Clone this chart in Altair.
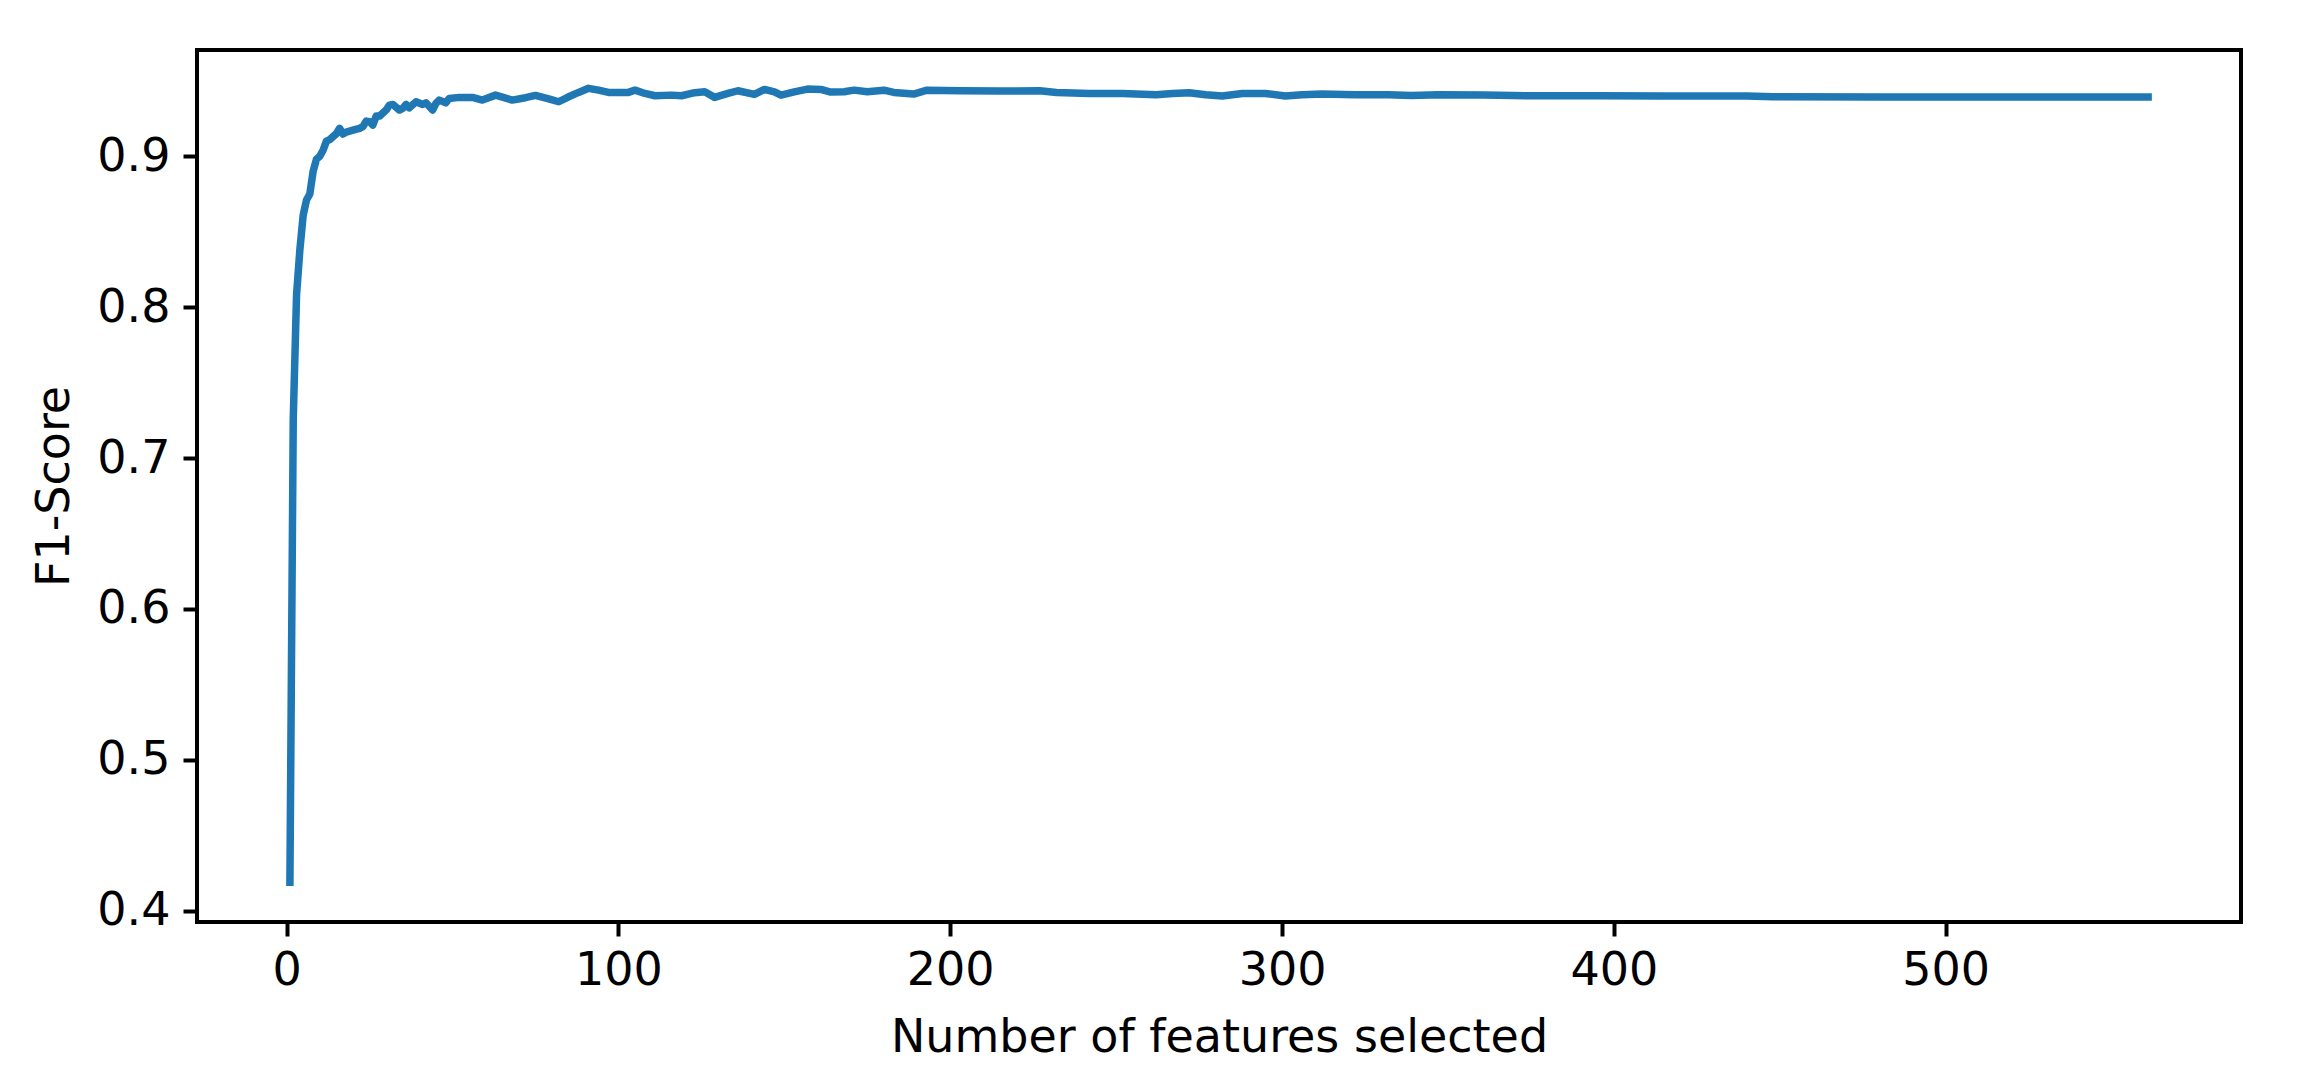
import altair as alt
import pandas as pd

# Number of features selected
n_features = [1, 2, 3, 4, 5, 6, 7, 8, 9, 10, 11, 12, 13, 14, 15, 16, 17, 18, 20, 22,
              23, 24, 25, 26, 27, 28, 30, 31, 32, 34, 35, 36, 37, 39, 41, 42, 44, 45, 46, 48,
              49, 52, 56, 59, 63, 68, 72, 75, 79, 82, 85, 88, 91, 94, 97, 103, 105, 108, 111, 116,
              119, 123, 126, 129, 133, 136, 141, 144, 147, 149, 153, 157, 161, 164, 168, 171, 175, 180, 183, 189,
              193, 203, 215, 227, 232, 242, 252, 262, 267, 272, 277, 282, 288, 295, 301, 306, 312, 322, 332, 339,
              347, 361, 375, 395, 415, 440, 448, 480, 520, 561]

# F1-Score
f1_score = [0.419, 0.725, 0.808, 0.838, 0.861, 0.871, 0.875, 0.890, 0.898, 0.900, 0.904, 0.910, 0.911, 0.913, 0.915, 0.9185, 0.9147, 0.916, 0.9173, 0.9185,
            0.9196, 0.9233, 0.9229, 0.9207, 0.9266, 0.9266, 0.9306, 0.9339, 0.9343, 0.9306, 0.9317, 0.9343, 0.9321, 0.9361, 0.9343, 0.9354, 0.9306, 0.935, 0.9372, 0.9354,
            0.9383, 0.939, 0.939, 0.9372, 0.9405, 0.9372, 0.9388, 0.9403, 0.938, 0.9361, 0.9394, 0.9423, 0.945, 0.9438, 0.9423, 0.9423, 0.9438, 0.9416, 0.9401, 0.9405,
            0.9401, 0.9421, 0.9427, 0.939, 0.9416, 0.9434, 0.941, 0.9443, 0.9427, 0.9405, 0.9427, 0.9445, 0.9443, 0.9425, 0.9427, 0.9438, 0.9427, 0.9438, 0.9423, 0.9412,
            0.9438, 0.9434, 0.9432, 0.9434, 0.9423, 0.9416, 0.9416, 0.9407, 0.9416, 0.9421, 0.9407, 0.9399, 0.9416, 0.9416, 0.9399, 0.9407, 0.9412, 0.9407, 0.9407, 0.9403,
            0.9407, 0.9405, 0.9401, 0.9401, 0.9399, 0.9399, 0.9394, 0.9392, 0.9393, 0.9393]

x_ticks = [0, 100, 200, 300, 400, 500]
y_ticks = [0.4, 0.5, 0.6, 0.7, 0.8, 0.9]

df = pd.DataFrame({"n": n_features, "f1": f1_score})

FONT = "DejaVu Sans"
FS = 46

chart = alt.Chart(df).mark_line(
    color="#1f77b4", strokeWidth=7.5, strokeCap="square", strokeJoin="round", clip=True
).encode(
    x=alt.X("n:Q", title="Number of features selected",
            scale=alt.Scale(domain=[-27, 589], nice=False, zero=False),
            axis=alt.Axis(values=x_ticks, format="d", grid=False, domain=False,
                          tickColor="black", tickWidth=4, tickSize=14,
                          labelFont=FONT, labelFontSize=FS, labelColor="black",
                          labelPadding=12, titleFont=FONT, titleFontSize=FS,
                          titleFontWeight="normal", titleColor="black", titlePadding=22)),
    y=alt.Y("f1:Q", title="F1-Score",
            scale=alt.Scale(domain=[0.3926, 0.9704], nice=False, zero=False),
            axis=alt.Axis(values=y_ticks, format=".1f", grid=False, domain=False,
                          tickColor="black", tickWidth=4, tickSize=14,
                          labelFont=FONT, labelFontSize=FS, labelColor="black",
                          labelPadding=13, titleFont=FONT, titleFontSize=FS,
                          titleFontWeight="normal", titleColor="black", titlePadding=18)),
).properties(
    width=2044, height=872,
    background="white",
    autosize=alt.AutoSizeParams(type="none"),
    padding={"left": 189, "top": 42, "right": 56, "bottom": 150},
).configure_view(
    stroke="black", strokeWidth=4
)

chart.save("out.html", embed_options={"renderer": "svg", "actions": False})
